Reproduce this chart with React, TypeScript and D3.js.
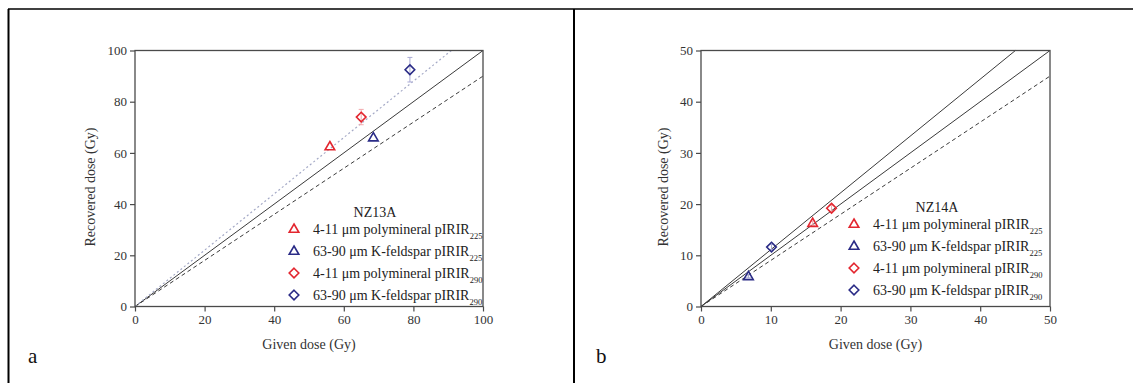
import { useEffect, useRef } from "react"
import * as d3 from "d3"

// series (shared legend)
const seriesLabels = ["4-11 μm polymineral pIRIR", "63-90 μm K-feldspar pIRIR", "4-11 μm polymineral pIRIR", "63-90 μm K-feldspar pIRIR"]
const seriesSubs = ["225", "225", "290", "290"]
const seriesColors = ["#e3262f", "#2a2b86", "#e3262f", "#2a2b86"]
const errColors = ["#f2a9ad", "#a9aad4", "#f2a9ad", "#a9aad4"]
const seriesShapes = ["triangle", "triangle", "diamond", "diamond"]

// panel a: NZ13A
const nz13aTicks = [0, 20, 40, 60, 80, 100]
const nz13aGiven = [56, 68.5, 65, 79]
const nz13aRecovered = [62.5, 66, 74, 92.5]
const nz13aError = [0, 0, 3, 4.8]
const nz13aRatios = [1, 0.9, 1.1]
const nz13aRatioStyles = ["solid", "dashed", "dotted"]

// panel b: NZ14A
const nz14aTicks = [0, 10, 20, 30, 40, 50]
const nz14aGiven = [16, 6.8, 18.7, 10.1]
const nz14aRecovered = [16.3, 5.9, 19.2, 11.6]
const nz14aError = [0.4, 0.3, 0.6, 0.5]
const nz14aRatios = [1, 0.9, 1.11]
const nz14aRatioStyles = ["solid", "dashed", "solid"]

const serif = "'Liberation Serif', 'Times New Roman', serif"

function shapePath(shape: string) {
  if (shape === "triangle") return "M0,-5 L4.8,3.3 L-4.8,3.3 Z"
  return "M0,-4.8 L4.8,0 L0,4.8 L-4.8,0 Z"
}

function drawPanel(
  svg: d3.Selection<SVGSVGElement, unknown, null, undefined>,
  opts: {
    left: number
    right: number
    top: number
    bottom: number
    max: number
    ticks: number[]
    given: number[]
    recovered: number[]
    errors: number[]
    ratios: number[]
    ratioStyles: string[]
    name: string
    nameX: number
    legendX: number
    legendY: number
    yTitleX: number
    letter: string
    letterX: number
  }
) {
  const x = d3.scaleLinear().domain([0, opts.max]).range([opts.left, opts.right])
  const y = d3.scaleLinear().domain([0, opts.max]).range([opts.bottom, opts.top])
  const g = svg.append("g").style("font-family", serif)
  const axisColor = "#4a4a4a"

  // ratio lines
  opts.ratios.forEach((r, i) => {
    const xEnd = Math.min(opts.max, opts.max / r)
    const style = opts.ratioStyles[i]
    g.append("line")
      .attr("x1", x(0))
      .attr("y1", y(0))
      .attr("x2", x(xEnd))
      .attr("y2", y(xEnd * r))
      .attr("stroke", style === "dotted" ? "#a4a9c6" : "#3a3a3a")
      .attr("stroke-width", style === "dotted" ? 1.2 : 1)
      .attr("stroke-dasharray", style === "dashed" ? "4,3" : style === "dotted" ? "2,2.5" : null)
  })

  // frame
  g.append("rect")
    .attr("x", opts.left)
    .attr("y", opts.top)
    .attr("width", opts.right - opts.left)
    .attr("height", opts.bottom - opts.top)
    .attr("fill", "none")
    .attr("stroke", axisColor)
    .attr("stroke-width", 1.3)

  // axes
  const xAxis = d3.axisBottom(x).tickValues(opts.ticks).tickSize(5).tickPadding(3)
  const yAxis = d3.axisLeft(y).tickValues(opts.ticks).tickSize(5).tickPadding(3)
  const gx = g.append("g").attr("transform", `translate(0,${opts.bottom})`).call(xAxis)
  const gy = g.append("g").attr("transform", `translate(${opts.left},0)`).call(yAxis)
  ;[gx, gy].forEach((ax) => {
    ax.select(".domain").remove()
    ax.selectAll("line").attr("stroke", axisColor).attr("stroke-width", 1.2)
    ax.selectAll("text").attr("fill", "#333").style("font-size", "13px").style("font-family", serif)
  })

  // axis titles
  g.append("text")
    .attr("x", (opts.left + opts.right) / 2)
    .attr("y", 349)
    .attr("text-anchor", "middle")
    .attr("fill", "#333")
    .style("font-size", "14px")
    .text("Given dose (Gy)")
  g.append("text")
    .attr("transform", `translate(${opts.yTitleX},187) rotate(-90)`)
    .attr("text-anchor", "middle")
    .attr("dominant-baseline", "middle")
    .attr("fill", "#333")
    .style("font-size", "14px")
    .text("Recovered dose (Gy)")

  // error bars + points
  opts.given.forEach((gv, i) => {
    const e = opts.errors[i]
    if (e > 0) {
      const cx = x(gv)
      g.append("line").attr("x1", cx).attr("x2", cx).attr("y1", y(opts.recovered[i] - e)).attr("y2", y(opts.recovered[i] + e)).attr("stroke", errColors[i]).attr("stroke-width", 1)
      ;[-e, e].forEach((d) => {
        g.append("line").attr("x1", cx - 2.5).attr("x2", cx + 2.5).attr("y1", y(opts.recovered[i] + d)).attr("y2", y(opts.recovered[i] + d)).attr("stroke", errColors[i]).attr("stroke-width", 1)
      })
    }
  })
  opts.given.forEach((gv, i) => {
    g.append("path")
      .attr("d", shapePath(seriesShapes[i]))
      .attr("transform", `translate(${x(gv)},${y(opts.recovered[i])})`)
      .attr("fill", "none")
      .attr("stroke", seriesColors[i])
      .attr("stroke-width", 1.6)
  })

  // legend
  g.append("text")
    .attr("x", opts.nameX)
    .attr("y", opts.legendY - 12)
    .attr("text-anchor", "middle")
    .attr("fill", "#222")
    .style("font-size", "14px")
    .text(opts.name)
  seriesLabels.forEach((lab, i) => {
    const ly = opts.legendY + i * 22
    g.append("path")
      .attr("d", shapePath(seriesShapes[i]))
      .attr("transform", `translate(${opts.legendX},${ly})`)
      .attr("fill", "none")
      .attr("stroke", seriesColors[i])
      .attr("stroke-width", 1.6)
    const t = g.append("text").attr("x", opts.legendX + 19).attr("y", ly + 5).attr("fill", "#222").style("font-size", "14px")
    t.append("tspan").text(lab)
    t.append("tspan").attr("dy", 5).style("font-size", "8.5px").text(seriesSubs[i])
  })

  // panel letter
  g.append("text").attr("x", opts.letterX).attr("y", 363).attr("fill", "#111").style("font-size", "21px").text(opts.letter)
}

export default function App() {
  const svgRef = useRef<SVGSVGElement>(null)

  useEffect(() => {
    if (!svgRef.current) return
    const svg = d3.select(svgRef.current)
    svg.selectAll("*").remove()

    // table borders
    svg.append("line").attr("x1", 8).attr("x2", 1133).attr("y1", 9).attr("y2", 9).attr("stroke", "#000").attr("stroke-width", 1.3)
    svg.append("line").attr("x1", 8.5).attr("x2", 8.5).attr("y1", 9).attr("y2", 383).attr("stroke", "#000").attr("stroke-width", 2)
    svg.append("line").attr("x1", 574).attr("x2", 574).attr("y1", 9).attr("y2", 383).attr("stroke", "#000").attr("stroke-width", 2)

    drawPanel(svg, {
      left: 135,
      right: 483,
      top: 50.5,
      bottom: 306.5,
      max: 100,
      ticks: nz13aTicks,
      given: nz13aGiven,
      recovered: nz13aRecovered,
      errors: nz13aError,
      ratios: nz13aRatios,
      ratioStyles: nz13aRatioStyles,
      name: "NZ13A",
      nameX: 375,
      legendX: 294,
      legendY: 229,
      yTitleX: 92,
      letter: "a",
      letterX: 28,
    })
    drawPanel(svg, {
      left: 701,
      right: 1050,
      top: 50.5,
      bottom: 306.5,
      max: 50,
      ticks: nz14aTicks,
      given: nz14aGiven,
      recovered: nz14aRecovered,
      errors: nz14aError,
      ratios: nz14aRatios,
      ratioStyles: nz14aRatioStyles,
      name: "NZ14A",
      nameX: 937,
      legendX: 854,
      legendY: 224,
      yTitleX: 665,
      letter: "b",
      letterX: 596,
    })
  }, [])

  return (
    <svg
      ref={svgRef}
      width={1133}
      height={383}
      style={{ position: "absolute", left: 0, top: 0, background: "#fff" }}
    />
  )
}
